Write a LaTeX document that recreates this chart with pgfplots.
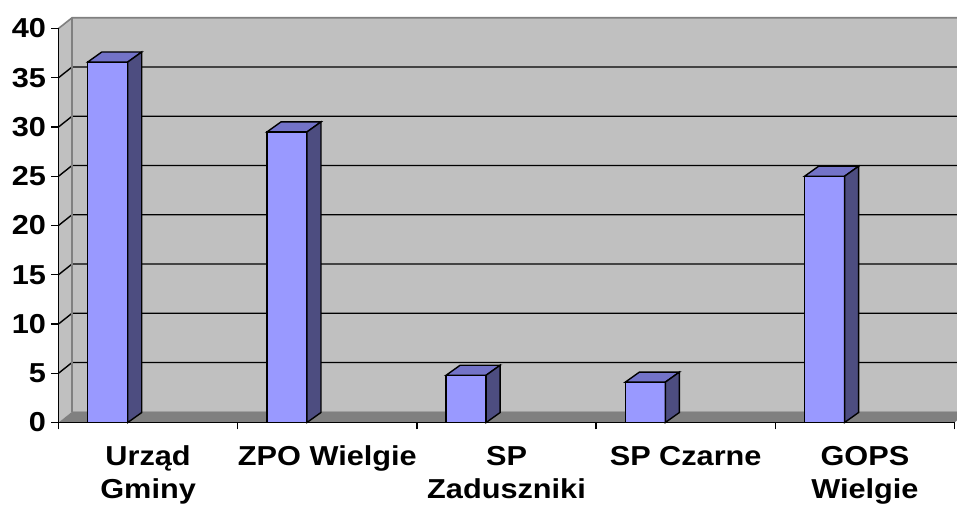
\documentclass[border=0pt]{standalone}
\usepackage{fontspec}
\setmainfont{Liberation Sans}[FakeStretch=1.12]
\usepackage{pgfplots}
\pgfplotsset{compat=1.18}
\usepackage{pgfplotstable}
\usetikzlibrary{calc}

\definecolor{barfront}{HTML}{9999FF}
\definecolor{bartop}{HTML}{7373C8}
\definecolor{barside}{HTML}{4D4D80}
\definecolor{wallgray}{HTML}{C0C0C0}
\definecolor{floorgray}{HTML}{808080}
\definecolor{edgegray}{HTML}{808080}
\definecolor{floorline}{HTML}{A0A0A0}

\pgfplotstableread{
x v
0.275 36.6
1.275 29.5
2.275 4.8
3.275 4.1
4.275 25.0
}\datatable

% 3D top and side faces of a column, drawn from the data point (top centre of the front face)
\pgfdeclareplotmark{cuboid}{%
  \pgfmathsetlengthmacro{\hh}{\rawy*9.85bp}%
  \pgfpathmoveto{\pgfpoint{-20bp}{0bp}}%
  \pgfpathlineto{\pgfpoint{20bp}{0bp}}%
  \pgfpathlineto{\pgfpoint{34bp}{10bp}}%
  \pgfpathlineto{\pgfpoint{-6bp}{10bp}}%
  \pgfpathclose
  \pgfsetfillcolor{bartop}%
  \pgfusepath{fill,stroke}%
  \pgfpathmoveto{\pgfpoint{20bp}{0bp}}%
  \pgfpathlineto{\pgfpoint{34bp}{10bp}}%
  \pgfpathlineto{\pgfpoint{34bp}{10bp-\hh}}%
  \pgfpathlineto{\pgfpoint{20bp}{-\hh}}%
  \pgfpathclose
  \pgfsetfillcolor{barside}%
  \pgfusepath{fill,stroke}%
}

\newcommand{\lblfont}{\fontsize{27.5}{33}\selectfont\bfseries}

\begin{document}
\begin{tikzpicture}
% background: walls, floor, gridlines
\begin{axis}[
  at={(58.5bp,91.5bp)}, anchor=south west, scale only axis,
  width=896bp, height=394bp,
  xmin=0, xmax=5, ymin=0, ymax=40,
  hide axis, clip=false,
]
\fill[wallgray] ($(axis cs:0,0)+(13.5bp,10.7bp)$) rectangle ($(axis cs:5,40)+(13.5bp,10.7bp)$);
\fill[wallgray] (axis cs:0,0) -- (axis cs:0,40) -- ($(axis cs:0,40)+(13.5bp,10.7bp)$) -- ($(axis cs:0,0)+(13.5bp,10.7bp)$) -- cycle;
\fill[floorgray] (axis cs:0,0) -- (axis cs:5,0) -- ($(axis cs:5,0)+(13.5bp,10.7bp)$) -- ($(axis cs:0,0)+(13.5bp,10.7bp)$) -- cycle;
\draw[floorline, line width=1.4bp] ($(axis cs:0,0)+(13.5bp,10.7bp)$) -- ($(axis cs:5,0)+(13.5bp,10.7bp)$);
\pgfplotsinvokeforeach{5,10,15,20,25,30,35}{
  \draw[black, line width=1.4bp] (axis cs:0,#1) -- ($(axis cs:0,#1)+(13.5bp,10.7bp)$) -- ($(axis cs:5,#1)+(13.5bp,10.7bp)$);
}
\draw[edgegray, line width=1.6bp] (axis cs:0,40) -- ($(axis cs:0,40)+(13.5bp,10.7bp)$) -- ($(axis cs:5,40)+(13.5bp,10.7bp)$);
\draw[edgegray, line width=1.6bp] ($(axis cs:0,0)+(13.5bp,10.7bp)$) -- ($(axis cs:0,40)+(13.5bp,10.7bp)$);
\end{axis}

% front: axes, ticks, labels, columns
\begin{axis}[
  at={(58.5bp,91.5bp)}, anchor=south west, scale only axis,
  width=896bp, height=394bp,
  xmin=0, xmax=5, ymin=0, ymax=40,
  clip=false,
  axis x line*=bottom, axis y line*=left,
  axis line style={black, line width=1.4bp},
  ytick={0,5,...,40},
  xtick={0.5,1.5,2.5,3.5,4.5},
  xticklabels={{Urząd\\Gminy},{ZPO Wielgie},{SP\\Zaduszniki},{SP Czarne},{GOPS\\Wielgie}},
  minor xtick={0,1,2,3,4,5},
  tick align=outside,
  major tick length=7bp, minor tick length=7bp,
  tick style={black, line width=1.4bp},
  major x tick style={draw=none},
  minor x tick style={draw=black, line width=1.4bp},
  /pgf/number format/assume math mode=true,
  yticklabel style={font=\lblfont, xshift=-2bp},
  xticklabel style={font=\lblfont, align=center, yshift=-13bp},
]
\addplot[ybar, bar width=40bp, bar shift=0pt, fill=barfront, draw=black, line width=1.4bp]
  table[x=x, y=v]{\datatable};
\addplot[only marks, mark=cuboid, draw=black, line width=1.4bp,
  mark options={draw=black, line width=1.4bp},
  visualization depends on={\thisrow{v}\as\rawy}]
  table[x=x, y=v]{\datatable};
\end{axis}
\pgfresetboundingbox
\path[use as bounding box] (0,0) rectangle (957bp,514bp);
\end{tikzpicture}
\end{document}
